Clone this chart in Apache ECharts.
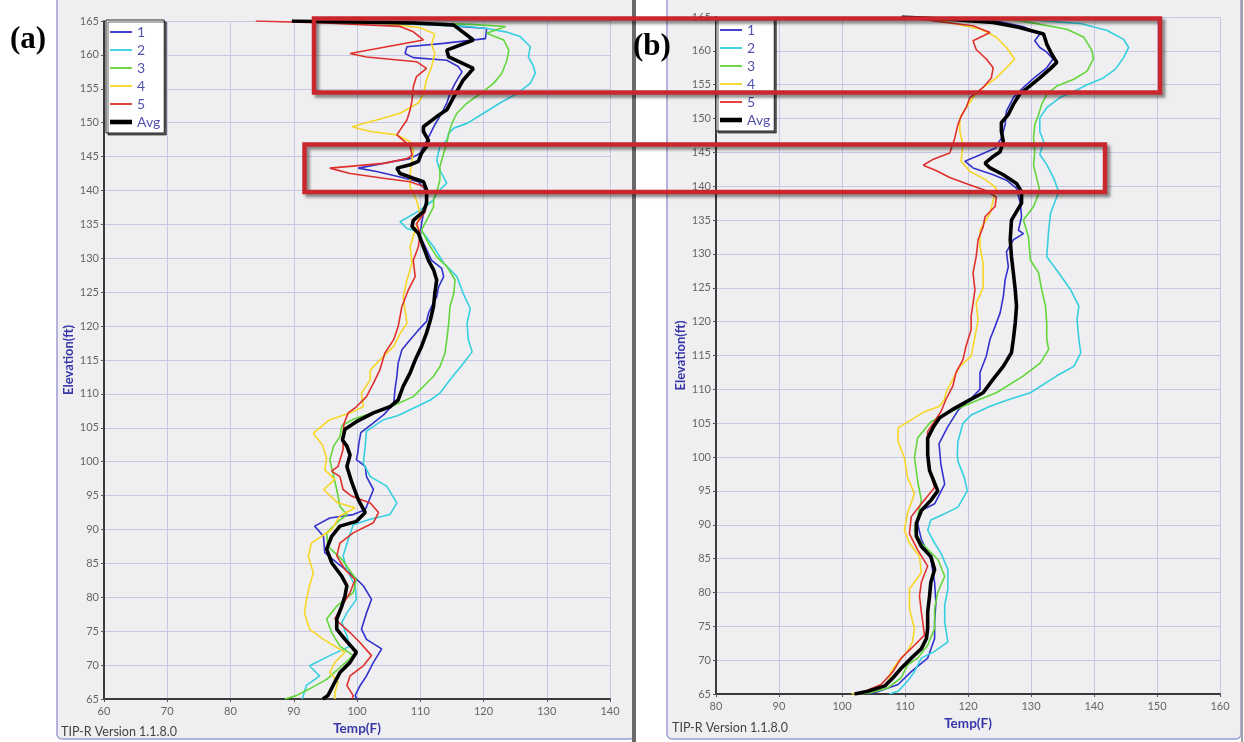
<!DOCTYPE html>
<html><head><meta charset="utf-8">
<script src="https://cdn.jsdelivr.net/npm/echarts@6/dist/echarts.min.js"></script>
<style>html,body{margin:0;padding:0;background:#fff}#c{width:1244px;height:742px}</style>
</head><body><div id="c"></div>
<script>
// ---------- data ----------
const seriesNames = ['1','2','3','4','5','Avg'];
const seriesColors = ['#3232cc','#35cfe0','#62d63a','#f7d625','#e0302c','#000000'];
const xTicksA = [60,70,80,90,100,110,120,130,140];
const xTicksB = [80,90,100,110,120,130,140,150,160];
const yTicks = [65,70,75,80,85,90,95,100,105,110,115,120,125,130,135,140,145,150,155,160,165];

// panel (a): [Temp(F), Elevation(ft)]
const a1 = [[94,165],[112,164.5],[120.5,163.9],[120.3,162.4],[113.7,161.7],[107.9,161.2],[107.6,160.2],[108.9,159.6],[114.2,159.2],[116,158.3],[116.6,157.5],[115.5,155.8],[114.7,154.3],[114.2,152.9],[113.4,151.4],[112.3,149.7],[111.6,148.4],[110.8,147],[110,145.5],[108.4,144.7],[105.8,144.3],[103.1,143.8],[100.2,143.3],[103.1,142.8],[106.8,142],[109.7,141.3],[110.8,140.1],[111,139.1],[110.5,136.6],[110.2,135.1],[110,133.2],[110.8,131.7],[111.8,129.7],[113.4,128.5],[113.7,127.3],[112.9,125.8],[112.6,124.3],[111.8,122.9],[111.3,121.9],[111,120.7],[109.7,119.4],[108.4,118],[107.1,116.5],[106.5,114.5],[106.3,112.6],[106,110.6],[105.8,108.5],[104.2,106.9],[102.3,105.5],[100.6,104.3],[100.3,102.7],[100.1,101.2],[99.9,100.3],[101.3,99.3],[101.5,97.8],[102.6,95.9],[101.3,92.9],[99.4,92.2],[95.7,91.7],[93.3,90.5],[94.7,89],[94.9,86.6],[96.8,85.1],[98.9,83.6],[101,81.7],[102.3,79.7],[101.5,77.7],[100.7,75.3],[101.5,73.8],[103.9,72.4],[102.6,70.4],[101.5,68.4],[100.5,67],[99.7,65.5],[100,65]];
const a2 = [[96,165],[117.4,164.2],[120.5,163.9],[123.5,163.4],[125.8,162.7],[127.4,161.2],[127.1,159.7],[127.9,158.3],[128.2,157.3],[127.4,155.8],[125.3,154.3],[122.6,152.9],[120,151.4],[117.4,149.9],[115.3,149.2],[114.5,148.4],[114.2,147.4],[113.1,146.5],[112.6,144.5],[113.1,143],[114.2,141.1],[113.1,140.1],[112.3,139.1],[112.1,138.6],[110,137.1],[106.8,135.4],[107.9,134.4],[110.5,133.7],[112.1,131.7],[113.7,129.3],[115.8,127.3],[116.8,124.8],[117.9,122.6],[117.4,120.4],[117.6,118],[118.2,116.2],[116.8,114.5],[114.7,112.1],[113.1,110.1],[111.6,109.1],[109.4,108.1],[106.5,106.8],[104.2,106.2],[101.5,104.5],[101.3,102.3],[101,99.8],[102.1,97.8],[104.7,96.4],[106.3,93.9],[105.2,92.2],[102.1,91.5],[99.4,90.7],[98.6,88.5],[97.8,86.1],[98.4,84.1],[99.7,81.7],[99.9,79.7],[98.4,77.7],[97.6,76.3],[98.4,74.3],[98.9,72.8],[95.7,71.4],[92.5,69.9],[94.1,68.4],[92,67],[91.5,65.5],[91.3,65]];
const a3 = [[97,165],[118,164.5],[123.5,164.2],[120.5,163.2],[123.2,162.2],[124,160.7],[123.7,159.2],[122.9,157.3],[121.6,155.8],[119.5,154.3],[117.4,152.9],[115.8,151.4],[115,149.9],[114.5,148.4],[114.2,147],[113.7,145.5],[113.1,143.5],[113.1,141.5],[112.6,139.8],[112.1,138.6],[112.1,137.6],[111,135.6],[110.2,134.2],[111.3,132.2],[112.6,130.2],[114.2,128.8],[115.5,126.8],[115.3,124.8],[114.7,122.9],[114.5,120.4],[114.2,118],[113.9,116],[113.1,114],[112.1,112.6],[110.5,111.1],[108.9,109.6],[105.8,108.3],[102.5,107.2],[99.5,106.3],[97.6,105.3],[97.3,103.7],[96.3,102.3],[95.7,100.3],[96.2,98.3],[96.8,95.9],[97.3,93.4],[98.4,92.2],[96.8,91],[95.2,89.5],[95.4,87.5],[97.6,85.6],[99.9,82.6],[99.4,80.7],[96.8,78.7],[95.2,76.8],[96,74.8],[97.3,72.8],[99.4,71.4],[97.6,69.9],[95.2,67.9],[92.5,66.5],[90.4,65.5],[88.6,65]];
const a4 = [[92,165],[105,164.6],[110,164],[112.3,163.1],[111.8,161.6],[112.3,160.2],[111.8,158.3],[111,156.3],[110.5,154.3],[109.7,152.9],[106.8,151.4],[103.1,150.4],[99.2,149.4],[102.1,148.7],[106.3,148.2],[108.4,147.2],[108.9,146],[108.7,144.5],[108.4,142.5],[108.4,140.5],[109.4,138.6],[110,136.6],[109.2,134.2],[108.4,131.7],[108.7,129.3],[107.9,126.8],[107.3,124.3],[107.9,120.4],[106.8,118.9],[105.8,117],[103.6,115],[102.1,113.5],[102.1,112.1],[100.7,110.1],[101,108.1],[98.9,107.2],[95.7,106.2],[93.1,104.2],[94.5,102.5],[95.2,100.5],[94.9,98.8],[96.5,97.4],[94.7,95.9],[97,93.9],[99.7,93.2],[97.3,92],[96,90],[92.8,88],[92.3,86.1],[93.1,83.6],[92.5,81.7],[92,79.7],[91.7,77.7],[92.5,75.3],[94.7,73.8],[98.1,71.9],[96.5,70.4],[95.7,68.9],[97,67.5],[96.5,66],[96.5,65]];
const a5 = [[84,165],[95,164.7],[106.8,164.2],[108.9,163.4],[110.5,162.2],[98.9,160.2],[101.5,159.7],[109.4,159],[111,158],[109.4,156.8],[108.9,155.3],[108.7,153.3],[108.4,151.9],[107.9,150.4],[106.8,148.9],[106.3,148.2],[107.3,147.4],[108.4,146.5],[108.7,145.2],[107.9,144.7],[104.2,144],[95.7,143.3],[98.9,142.5],[104.2,141.8],[108.4,141.3],[110.5,140.6],[111,139.8],[111,138.6],[110.8,136.9],[109.4,135.1],[110,133.7],[109.7,131.7],[108.9,129.7],[109.2,127.3],[108.1,125.3],[107.1,122.9],[106.5,119.9],[105.8,118],[104.4,116],[103.6,113.5],[102.6,111.6],[101.5,109.6],[99.9,108.1],[98.6,107.2],[97.9,105.5],[97.8,103.2],[97.8,101.8],[97,99.3],[96,98.6],[97.3,97.8],[97.8,95.9],[99.2,94.9],[102.1,93.9],[103.4,92.5],[102.6,91],[99.4,89.5],[97.3,88],[96.8,86.1],[98.1,84.1],[99.7,82.6],[98.9,80.7],[97.6,78.7],[96.5,76.8],[98.9,74.8],[100.5,73.3],[102.3,71.4],[101,69.9],[98.9,68.4],[98.4,67],[99.4,65.5],[99.2,65]];
const aAvg = [[89.7,165],[109,164.7],[115.3,164.4],[118.4,162.2],[114.2,160.7],[114.5,159.7],[118.4,158],[116.8,156.3],[115.3,153.8],[114.2,151.9],[112.6,150.9],[110.5,149.4],[110.5,148.7],[111.3,147.4],[111,146.5],[110.2,145.5],[109.7,144.3],[108.4,143.8],[106.3,143.3],[106.8,142.5],[108.9,141.8],[110.5,141.3],[111,140.1],[111,138.1],[110.5,136.9],[108.9,135.6],[108.7,134.7],[109.7,133.7],[110.5,131.7],[111.3,129.7],[112.1,128.3],[112.6,126.8],[112.3,124.8],[112.1,122.9],[111.6,120.9],[111,119],[110.2,117],[109.2,115],[108.4,113.1],[107.3,111.1],[106.5,109.1],[105.2,108.1],[102.6,107.2],[99.9,105.9],[98.1,104.8],[97.7,103.2],[98.4,102.3],[98.9,101],[98.4,99.3],[99.2,96.9],[100.2,94.4],[101.3,92.5],[99.9,91.2],[97.3,90.5],[96,89],[95.2,87.1],[96,85.1],[97.6,83.1],[98.4,81.7],[98.1,80.2],[97.6,78.7],[96.8,76.8],[96.8,75.3],[98.1,73.8],[99.9,71.9],[98.9,70.4],[97.3,68.9],[96.5,67.5],[95.4,65.5],[94.6,65]];

// panel (b): [Temp(F), Elevation(ft)]
const b1 = [[109.5,165],[124,164.5],[129,163.5],[131.4,162.5],[130.6,161.5],[131.4,160.5],[132.5,159.8],[133.5,158.8],[132.5,157.5],[130.5,156],[128.8,154.6],[127.2,153.1],[126.1,151.1],[125.9,149.1],[125.3,147.1],[124.3,145.6],[121.3,144.4],[119.5,143.7],[120.8,142.7],[124,141.7],[126.1,140.9],[127.7,139.7],[128.3,137.5],[128.5,135.5],[128,133.5],[128.8,133],[127.2,132.1],[126.1,130.3],[126.4,128.1],[125.9,126.2],[125.6,123.7],[125.1,121.3],[124.3,119.3],[123.5,117.4],[122.9,114.9],[121.9,112.5],[121.9,110],[120.3,108.5],[118.5,107],[116.8,104.5],[115.4,102],[115.7,98.9],[116.3,96],[114.7,93.1],[112.6,92.1],[112,90.2],[112.6,87.8],[114.1,84.9],[114.7,81.5],[114.9,78.5],[114.7,75.6],[114.7,73.2],[113.6,70.3],[111,68.3],[108.9,66.4],[105.5,65.3],[104,65]];
const b2 = [[110,165],[130,164.6],[138,164],[142.1,163],[144.7,161.7],[145.5,160.5],[144.7,159],[143.4,157.3],[141.5,156],[138.9,155],[136.8,154],[134.6,153.1],[132.5,151.6],[131.4,150.1],[131.4,148.1],[132,146.6],[131.4,144.7],[132.5,143.2],[133.6,141.2],[134.4,139.2],[133.1,136],[132.8,133.5],[132.5,129.6],[134.1,127.6],[136.3,124.7],[137.6,122.3],[137.3,120.3],[137.6,117.4],[137.9,115.4],[136.8,113.4],[134.1,112],[129.9,109.5],[126.5,108.5],[123.5,107.5],[120.5,106.2],[119.2,105],[118.4,102.3],[118.3,100.5],[118.4,99.4],[119.4,97],[119.9,95],[118.4,92.6],[116,91.5],[114.1,90.7],[113.6,89.2],[114.7,87.3],[115.7,85.8],[116.8,83.4],[116.8,80.5],[116.3,78.1],[116.3,75.6],[116.8,72.7],[114.7,71.3],[112.6,70.3],[111.5,68.3],[110.4,66.9],[108.9,65.4],[107.5,65]];
const b3 = [[110,165],[128,164.5],[135.7,163.2],[138.4,162],[139.7,160],[139.9,158.8],[138.9,157],[136.8,155.8],[134.1,154.8],[132.5,153.6],[131.7,152.1],[131.2,150.6],[130.6,149.1],[130.4,147.1],[130.6,145.1],[130.4,143.2],[130.9,141.2],[131.4,139.3],[130.4,137],[128.8,135],[129.6,132.5],[129.9,129.1],[131.2,127.2],[131.7,124.7],[132.3,122.3],[132.5,119.8],[132.5,117.4],[132.8,115.9],[131.5,113.9],[128.8,112],[124.5,109.5],[121.5,108.4],[118.5,107.2],[116,106.2],[114.1,105.2],[112,102.8],[111.5,99.9],[112,96.5],[112.6,93.6],[112,91.2],[111.5,89.2],[112.6,87.3],[115.2,84.9],[116.3,82.4],[115.2,80],[114.7,77.6],[114.7,74.7],[113.6,72.2],[112,70.3],[110.4,69.3],[109.4,67.4],[107.3,65.9],[104.5,65.2],[103,65]];
const b4 = [[111,165],[117,164.2],[122,163.2],[124.5,162],[126.1,160.5],[127.4,158.8],[126.1,157.5],[124.5,156],[122.4,154.6],[120.8,153.1],[119.7,151.6],[118.7,150.1],[118.7,148.1],[119.2,146.1],[118.9,143.7],[120.3,142.2],[122.9,140.9],[124.5,139.7],[124,137.9],[123.5,136],[121.9,133.5],[121.9,131.1],[122.4,128.6],[122.4,126.7],[122.4,125],[121.3,122.7],[121.6,120.3],[121.1,117.8],[120.5,114.9],[118.7,113.4],[117.6,111.5],[116.5,109.5],[116.3,108.6],[115.5,107.5],[113.1,106.7],[108.9,104.3],[108.9,102.3],[109.9,99.9],[110.4,97],[111.5,94.6],[110.4,91.7],[109.9,89.2],[110.7,87.3],[112.3,85.3],[112.6,82.9],[110.7,80.5],[110.7,77.6],[111.5,74.7],[111.2,72.7],[110.4,71.3],[108.9,69.8],[107.8,68.3],[107.3,66.4],[104.6,65.4],[101.5,65]];
const b5 = [[110,165],[115.5,164.3],[120.8,163.7],[123.5,162.7],[120.8,161.5],[121.3,160.2],[122.9,158.8],[124,157.5],[123.7,156],[122.4,154.6],[120.3,153.1],[119.7,151.6],[118.9,150.3],[118.4,149.1],[117.9,147.1],[117.1,144.9],[114.5,144],[112.9,143.1],[115,142.3],[117.1,141.3],[120,140.3],[122.7,139.4],[124.5,138.4],[124.3,137],[122.7,135.5],[122.4,134],[121.6,132.1],[121.3,129.6],[120.8,127.2],[121.1,124.7],[120.8,122.7],[120.5,120.8],[120.5,118.8],[119.7,116.4],[119.2,114.4],[118.1,112.5],[117.6,110.5],[116.5,108.5],[115.7,106.7],[113.6,103.8],[113.6,101.4],[113.6,98.9],[114.7,95.5],[112.6,93.1],[111,91.2],[110.7,88.7],[112,86.3],[113.6,83.9],[112.6,81.5],[112.3,79.5],[112.6,77.1],[113.1,73.7],[111.5,72.2],[109.4,70.3],[108.1,68.3],[106.2,66.4],[103.1,65.2],[102,65]];
const bAvg = [[109.5,165],[118,164.6],[124,164.2],[128,163.5],[132,162.5],[132.5,161],[133.3,159.5],[134.1,158.3],[133,157.3],[131.4,156],[129.8,154.8],[128.2,153.6],[127.2,152.1],[126.4,150.6],[125.3,149.4],[125.3,148.1],[125.6,146.6],[125.1,145.1],[124,144.4],[122.7,143.4],[123.5,142.7],[125.6,141.7],[127.7,140.4],[128.5,139.2],[128.5,137.5],[126.9,135],[126.7,132.1],[126.9,129.6],[127.2,127.2],[127.5,124.7],[127.7,122.3],[127.5,119.8],[127.2,117.4],[126.9,115.4],[125.6,113.4],[124,111.5],[122.4,109.5],[120,108.3],[117.5,107],[115.5,105.8],[114.6,104.6],[113.6,102.8],[113.6,100.4],[113.9,98],[115.2,95],[114.1,93.6],[112.6,92.1],[111.8,90.2],[111.8,88.3],[112.6,86.8],[114.1,85.3],[114.7,83.4],[114.1,81.5],[113.9,79.5],[113.6,77.1],[113.6,74.7],[113.4,73.2],[112.6,71.7],[111,70.3],[109.4,68.8],[108.1,67.4],[106.8,66.2],[104.1,65.4],[102,65]];

// ---------- chart ----------
const FONT = 'Lato';
const panels = [[a1,a2,a3,a4,a5,aAvg],[b1,b2,b3,b4,b5,bAvg]];
const xTickSets = [xTicksA, xTicksB];

function xAxisFor(i) {
  const t = xTickSets[i];
  return {
    gridIndex: i, type: 'value', min: t[0], max: t[t.length-1], interval: t[1]-t[0],
    name: 'Temp(F)', nameLocation: 'middle', nameGap: 23,
    nameTextStyle: {color: '#3636a8', fontWeight: 'bold', fontSize: 13.5, fontFamily: FONT},
    axisLine: {show: true, onZero: false, lineStyle: {color: '#3a3a3a', width: 2}},
    axisTick: {show: true, length: 3, lineStyle: {color: '#555'}},
    axisLabel: {color: '#666', fontSize: 11, margin: 7, fontFamily: FONT},
    splitLine: {show: true, lineStyle: {color: '#c8c8e2', width: 1}}
  };
}
function yAxisFor(i) {
  return {
    gridIndex: i, type: 'value', min: yTicks[0], max: yTicks[yTicks.length-1], interval: yTicks[1]-yTicks[0],
    name: 'Elevation(ft)', nameLocation: 'middle', nameGap: 29, nameRotate: 90,
    nameTextStyle: {color: '#3636a8', fontWeight: 'bold', fontSize: 13, fontFamily: FONT},
    axisLine: {show: true, onZero: false, lineStyle: {color: '#3a3a3a', width: 2}},
    axisTick: {show: true, length: 3, lineStyle: {color: '#555'}},
    axisLabel: {color: '#666', fontSize: 11, margin: 5, fontFamily: FONT},
    splitLine: {show: true, lineStyle: {color: '#c8c8e2', width: 1}}
  };
}
function legendFor(left, top) {
  return {
    orient: 'vertical', left: left, top: top,
    data: seriesNames.map((n, i) => ({name: n, icon: i === 5 ? 'path://M0,0H24V5H0Z' : 'path://M0,0H24V2H0Z'})),
    itemWidth: 22, itemHeight: 12, itemGap: 4,
    padding: [5, 4, 4, 4],
    backgroundColor: '#ffffff', borderColor: '#222', borderWidth: 1,
    shadowColor: 'rgba(0,0,0,0.6)', shadowOffsetX: 2, shadowOffsetY: 2, shadowBlur: 0,
    textStyle: {color: '#5252ae', fontSize: 14, fontFamily: FONT},
    selectedMode: false
  };
}

const series = [];
panels.forEach((g, gi) => g.forEach((d, i) => series.push({
  name: seriesNames[i], type: 'line', xAxisIndex: gi, yAxisIndex: gi, data: d,
  symbol: 'none', showSymbol: false, silent: true, animation: false, clip: true,
  color: seriesColors[i],
  lineStyle: {width: i === 5 ? 3.6 : 1.6, color: seriesColors[i]},
  z: i === 5 ? 6 : 3
})));

const redBox = (x, y, w, h) => ({
  type: 'rect', z: 200, silent: true,
  shape: {x: x, y: y, width: w, height: h},
  style: {fill: 'none', stroke: '#c9262d', lineWidth: 4.5,
          shadowColor: 'rgba(0,0,0,0.45)', shadowBlur: 3, shadowOffsetX: 3, shadowOffsetY: 3}
});

const option = {
  backgroundColor: '#ffffff',
  animation: false,
  grid: [
    {left: 104, top: 21, width: 506, height: 678, containLabel: false},
    {left: 716, top: 17, width: 504, height: 677, containLabel: false}
  ],
  xAxis: [xAxisFor(0), xAxisFor(1)],
  yAxis: [yAxisFor(0), yAxisFor(1)],
  legend: [legendFor(106, 20), legendFor(716, 18)],
  series: series,
  graphic: [
    {type: 'rect', z: -100, silent: true, shape: {x: 57, y: -6, width: 578, height: 745, r: 5},
     style: {fill: '#efeff1', stroke: '#9c9cd2', lineWidth: 1.5}},
    {type: 'rect', z: -100, silent: true, shape: {x: 667, y: -6, width: 574, height: 745, r: 5},
     style: {fill: '#efeff1', stroke: '#9c9cd2', lineWidth: 1.5}},
    {type: 'rect', z: -90, silent: true, shape: {x: 632, y: 0, width: 4, height: 742},
     style: {fill: '#6a6a6a'}},
    {type: 'rect', z: -90, silent: true, shape: {x: 1241, y: 0, width: 2, height: 742},
     style: {fill: '#a0a0a0'}},
    {type: 'text', z: 50, silent: true, left: 10, top: 24,
     style: {text: '(a)', font: 'bold 31px "Liberation Serif"', fill: '#000'}},
    {type: 'text', z: 250, silent: true, left: 633, top: 31,
     style: {text: '(b)', font: 'bold 31px "Liberation Serif"', fill: '#000'}},
    {type: 'text', z: 50, silent: true, left: 61, top: 725,
     style: {text: 'TIP-R Version 1.1.8.0', font: '12.5px Lato', fill: '#444'}},
    {type: 'text', z: 50, silent: true, left: 672, top: 721,
     style: {text: 'TIP-R Version 1.1.8.0', font: '12.5px Lato', fill: '#444'}},
    redBox(314, 18.5, 846, 74),
    redBox(304.5, 144.5, 800.5, 47.5)
  ]
};
echarts.init(document.getElementById('c'), null, {renderer: 'canvas'}).setOption(option);
</script>
</body></html>
